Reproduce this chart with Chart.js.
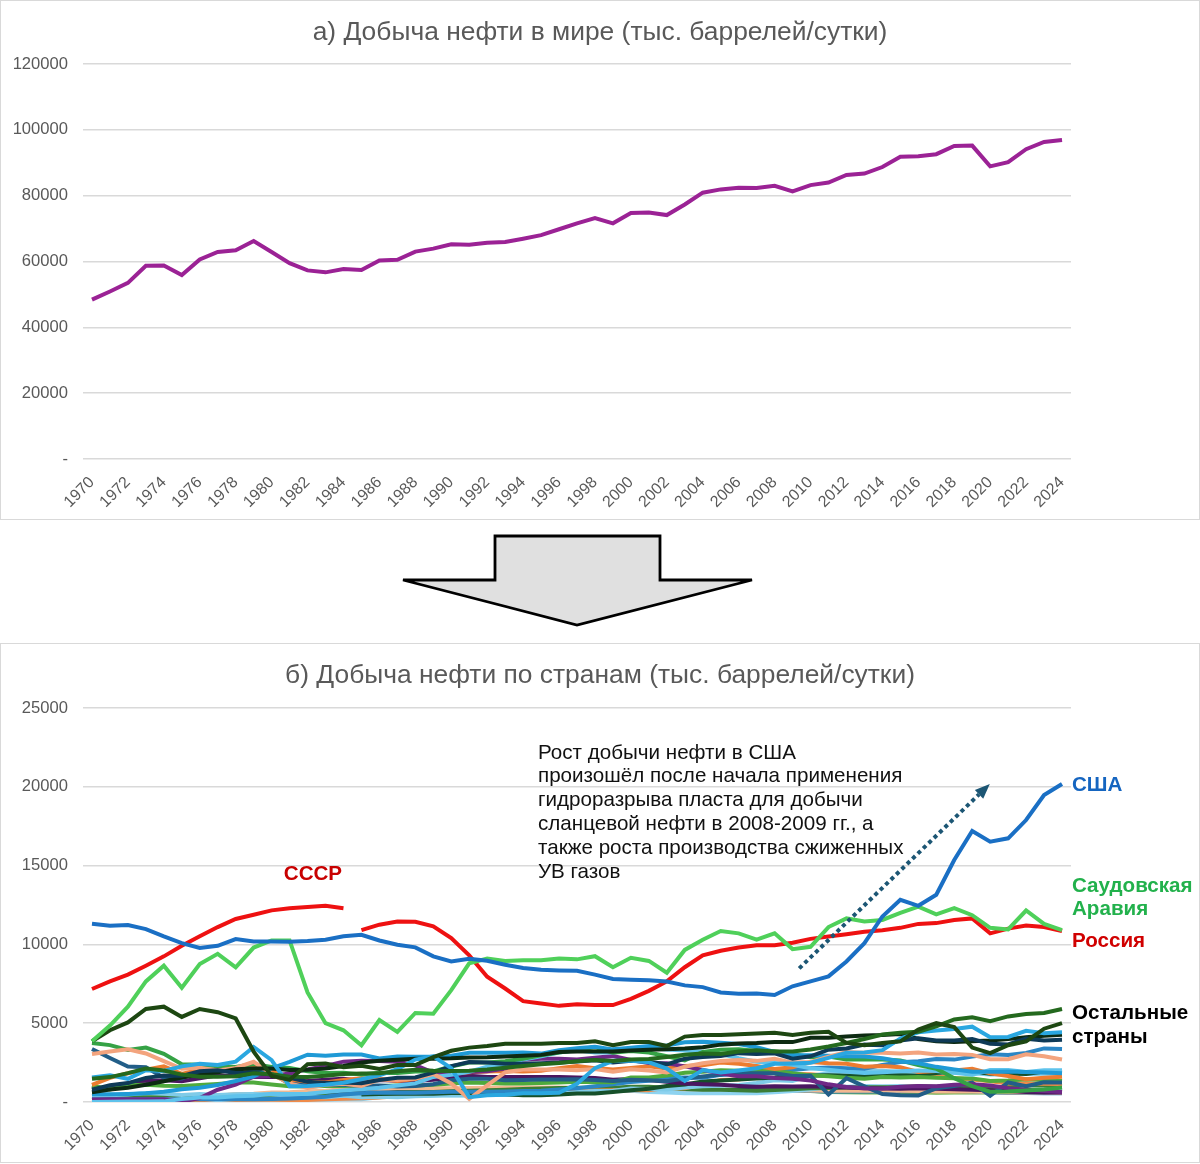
<!DOCTYPE html>
<html lang="ru">
<head>
<meta charset="utf-8">
<title>Добыча нефти</title>
<script src="https://cdn.jsdelivr.net/npm/chart.js@4.4.1/dist/chart.umd.min.js"></script>
<style>
  html, body { margin: 0; padding: 0; background: #fff; }
  body { width: 1200px; height: 1164px; position: relative; overflow: hidden; }
  .panel { position: absolute; left: 0; width: 1198px; height: 518px; border: 1px solid #d9d9d9; background: #fff; }
  #panelA { top: 0; }
  #panelB { top: 643px; }
  .panel canvas { display: block; }
  #bigArrow { position: absolute; left: 0; top: 520px; }
</style>
</head>
<body>
<div class="panel" id="panelA"><canvas id="worldChart" width="1198" height="518"></canvas></div>
<svg id="bigArrow" width="1200" height="123" viewBox="0 0 1200 123">
  <polygon points="495,16 660,16 660,60 752,60 577,105 403,60 495,60" fill="#e0e0e0" stroke="#000" stroke-width="2.8" stroke-linejoin="miter"/>
</svg>
<div class="panel" id="panelB"><canvas id="countryChart" width="1198" height="518"></canvas></div>
<script>
// years on the category axis
const years = ['1970','1971','1972','1973','1974','1975','1976','1977','1978','1979',
  '1980','1981','1982','1983','1984','1985','1986','1987','1988','1989',
  '1990','1991','1992','1993','1994','1995','1996','1997','1998','1999',
  '2000','2001','2002','2003','2004','2005','2006','2007','2008','2009',
  '2010','2011','2012','2013','2014','2015','2016','2017','2018','2019',
  '2020','2021','2022','2023','2024'];

// а) world production, thousand barrels/day
const world = [48400, 50900, 53500, 58700, 58800, 55900, 60600, 62900, 63400, 66200,
  62900, 59500, 57300, 56700, 57700, 57400, 60300, 60500, 63000, 63900,
  65200, 65100, 65700, 65900, 66900, 68000, 69800, 71600, 73200, 71600,
  74700, 74900, 74100, 77300, 80900, 81900, 82400, 82300, 83000, 81300,
  83200, 84000, 86300, 86700, 88700, 91800, 92000, 92600, 95100, 95200,
  88900, 90200, 94100, 96300, 96900];

// б) by country
const usa = [11310, 11180, 11230, 10970, 10510, 10080, 9770, 9910, 10340, 10190,
  10190, 10170, 10210, 10300, 10510, 10610, 10250, 9980, 9810, 9240,
  8920, 9090, 8960, 8710, 8500, 8390, 8350, 8330, 8080, 7800,
  7760, 7720, 7650, 7400, 7290, 6950, 6870, 6890, 6790, 7340,
  7650, 7970, 8920, 10080, 11770, 12830, 12450, 13150, 15350, 17200,
  16520, 16730, 17890, 19480, 20180];
const ussr = [7170, 7650, 8080, 8650, 9240, 9910, 10510, 11100, 11610, 11880,
  12160, 12300, 12370, 12450, 12300];
// Russia from 1985
const russia = [10900, 11250, 11450, 11430, 11150,
  10400, 9300, 7950, 7200, 6400, 6250, 6100, 6200, 6150, 6150,
  6550, 7050, 7650, 8550, 9300, 9600, 9800, 9950, 9950, 10100,
  10350, 10500, 10650, 10800, 10900, 11050, 11300, 11350, 11550, 11650,
  10700, 11000, 11200, 11100, 10850];
const saudi = [3850, 4850, 6050, 7650, 8650, 7250, 8750, 9400, 8550, 9800,
  10250, 10250, 6950, 5000, 4550, 3600, 5200, 4450, 5650, 5600,
  7100, 8800, 9100, 8950, 9000, 9000, 9100, 9050, 9250, 8550,
  9150, 8950, 8200, 9650, 10300, 10850, 10700, 10300, 10700, 9700,
  9850, 11100, 11650, 11450, 11550, 12000, 12400, 11900, 12300, 11850,
  11050, 10950, 12150, 11300, 10900];

const iran = [3850, 4550, 5050, 5900, 6050, 5400, 5900, 5700, 5300, 3200,
  1650, 1400, 2400, 2450, 2200, 2300, 2100, 2350, 2350, 2850,
  3250, 3450, 3550, 3700, 3700, 3700, 3750, 3750, 3850, 3600,
  3800, 3800, 3550, 4150, 4250, 4250, 4300, 4350, 4400, 4250,
  4400, 4450, 3750, 3600, 3750, 3850, 4600, 5000, 4750, 3450,
  3100, 3600, 3850, 4650, 5000];
const iraq = [1550, 1700, 1470, 2020, 1970, 2260, 2420, 2350, 2560, 3490,
  2660, 1000, 1010, 1100, 1220, 1440, 1690, 2080, 2690, 2900,
  2150, 310, 430, 460, 550, 560, 580, 1160, 2150, 2610,
  2610, 2520, 2120, 1340, 2030, 1880, 2000, 2140, 2420, 2450,
  2490, 2800, 3120, 3140, 3290, 4030, 4420, 4540, 4630, 4780,
  4110, 4130, 4520, 4360, 4420];
const kuwait = [3040, 3200, 3340, 3080, 2590, 2110, 2170, 2000, 2160, 2550,
  1760, 1180, 890, 1090, 1160, 1020, 1420, 1390, 1490, 1780,
  1180, 190, 1060, 1880, 2060, 2060, 2060, 2010, 2090, 1920,
  2080, 2000, 1880, 2240, 2460, 2600, 2660, 2610, 2740, 2500,
  2540, 2880, 3170, 3130, 3120, 3070, 3140, 3020, 3050, 2990,
  2710, 2720, 3030, 2900, 2700];
const uae = [780, 1060, 1200, 1530, 1680, 1660, 1950, 2010, 1840, 1850,
  1740, 1530, 1280, 1200, 1240, 1190, 1390, 1540, 1560, 1860,
  2280, 2540, 2500, 2430, 2420, 2460, 2500, 2570, 2650, 2510,
  2620, 2550, 2390, 2750, 2850, 2920, 3100, 3050, 3090, 2750,
  2900, 3320, 3400, 3640, 3600, 3900, 4040, 3910, 3910, 4000,
  3690, 3650, 4020, 3900, 3950];
const china = [620, 790, 910, 1090, 1320, 1550, 1740, 1880, 2080, 2120,
  2120, 2030, 2040, 2120, 2290, 2510, 2620, 2680, 2740, 2750,
  2770, 2830, 2840, 2890, 2930, 2990, 3170, 3210, 3210, 3210,
  3260, 3310, 3350, 3400, 3480, 3640, 3710, 3740, 3810, 3800,
  4080, 4070, 4160, 4220, 4250, 4310, 4000, 3850, 3800, 3850,
  3900, 3990, 4110, 4200, 4260];
const mexico = [490, 490, 510, 550, 650, 810, 900, 1080, 1330, 1630,
  2130, 2550, 3000, 2930, 3010, 3010, 2760, 2880, 2870, 2890,
  2940, 3130, 3120, 3130, 3140, 3070, 3280, 3410, 3500, 3340,
  3450, 3560, 3590, 3790, 3820, 3760, 3680, 3470, 3170, 2980,
  2960, 2940, 2910, 2880, 2780, 2590, 2460, 2230, 2070, 1920,
  1920, 1930, 1900, 1870, 1820];
const venezuela = [3750, 3610, 3300, 3450, 3060, 2400, 2370, 2290, 2220, 2410,
  2230, 2160, 1950, 1840, 1860, 1740, 1850, 1840, 1930, 1940,
  2250, 2500, 2500, 2590, 2750, 2960, 3140, 3320, 3480, 3130,
  3240, 3140, 2900, 2640, 3170, 3310, 3340, 3230, 3220, 3040,
  2840, 2880, 2700, 2690, 2690, 2630, 2350, 2110, 1510, 1010,
  650, 660, 730, 790, 920];
const canada = [1470, 1580, 1830, 2120, 2000, 1740, 1610, 1610, 1640, 1830,
  1760, 1610, 1590, 1660, 1780, 1810, 1830, 1950, 2040, 1990,
  1970, 1980, 2060, 2180, 2280, 2400, 2480, 2590, 2670, 2600,
  2700, 2730, 2860, 3000, 3080, 3040, 3210, 3290, 3210, 3200,
  3330, 3520, 3740, 4000, 4280, 4390, 4460, 4800, 5240, 5370,
  5130, 5430, 5580, 5650, 5900];
const norway = [0, 10, 30, 30, 40, 190, 280, 280, 360, 400,
  530, 510, 530, 640, 730, 810, 900, 1050, 1180, 1590,
  1720, 1920, 2240, 2400, 2700, 2900, 3140, 3280, 3140, 3140,
  3350, 3420, 3330, 3260, 3190, 3040, 2780, 2560, 2470, 2360,
  2140, 2040, 1920, 1840, 1890, 1950, 2000, 1970, 1850, 1730,
  2030, 2030, 1900, 2020, 2020];
const uk = [160, 170, 170, 170, 170, 30, 250, 780, 1100, 1600,
  1650, 1810, 2070, 2290, 2560, 2620, 2600, 2560, 2330, 1860,
  1860, 1900, 1950, 2120, 2680, 2750, 2740, 2700, 2810, 2910,
  2670, 2480, 2460, 2260, 2030, 1810, 1640, 1640, 1530, 1470,
  1360, 1120, 950, 870, 860, 960, 1010, 1000, 1090, 1120,
  1040, 880, 780, 700, 640];
const nigeria = [1080, 1530, 1820, 2050, 2260, 1780, 2070, 2090, 1910, 2300,
  2060, 1430, 1290, 1240, 1390, 1500, 1470, 1340, 1450, 1720,
  1810, 1890, 1940, 1960, 1930, 1990, 2150, 2280, 2150, 2070,
  2160, 2260, 2120, 2280, 2330, 2500, 2420, 2290, 2100, 2210,
  2530, 2460, 2430, 2240, 2280, 2200, 1900, 1970, 2000, 2110,
  1820, 1650, 1450, 1540, 1600];
const libya = [3360, 2790, 2250, 2210, 1540, 1490, 1950, 2080, 2000, 2100,
  1830, 1140, 1150, 1100, 1090, 1020, 1040, 980, 1010, 1130,
  1380, 1480, 1470, 1380, 1400, 1420, 1430, 1450, 1390, 1340,
  1410, 1380, 1320, 1490, 1620, 1750, 1820, 1820, 1820, 1650,
  1660, 480, 1510, 990, 500, 430, 410, 870, 1010, 1230,
  390, 1240, 1000, 1250, 1230];
const algeria = [1050, 790, 1060, 1100, 1030, 1020, 1080, 1150, 1230, 1230,
  1110, 1000, 990, 1010, 1010, 1040, 1020, 1050, 1040, 1100,
  1180, 1230, 1210, 1180, 1180, 1200, 1240, 1280, 1260, 1250,
  1550, 1560, 1680, 1850, 1920, 2010, 1980, 2000, 1990, 1820,
  1690, 1640, 1540, 1480, 1590, 1560, 1580, 1540, 1510, 1490,
  1330, 1360, 1450, 1400, 1330];
const indonesia = [850, 890, 1080, 1340, 1380, 1310, 1510, 1690, 1640, 1590,
  1580, 1610, 1340, 1410, 1470, 1330, 1390, 1350, 1340, 1410,
  1540, 1670, 1580, 1590, 1590, 1580, 1580, 1560, 1520, 1410,
  1460, 1390, 1290, 1180, 1130, 1090, 1020, 970, 1000, 990,
  1000, 950, 920, 880, 850, 840, 880, 840, 810, 780,
  740, 690, 640, 610, 600];
const brazil = [170, 180, 170, 170, 180, 180, 170, 170, 170, 170,
  190, 220, 270, 340, 480, 560, 600, 590, 580, 620,
  650, 650, 650, 670, 700, 720, 800, 870, 1000, 1130,
  1270, 1340, 1500, 1550, 1540, 1720, 1810, 1830, 1900, 2030,
  2140, 2190, 2140, 2110, 2350, 2530, 2590, 2730, 2690, 2880,
  3030, 2990, 3110, 3400, 3360];
// Kazakhstan from 1985
const kazakhstan = [480, 500, 520, 540, 530,
  570, 570, 530, 490, 430, 430, 470, 540, 540, 630,
  740, 840, 1020, 1110, 1300, 1360, 1430, 1490, 1550, 1690,
  1680, 1690, 1660, 1720, 1710, 1700, 1660, 1840, 1930, 1940,
  1800, 1810, 1770, 1930, 1890];
const qatar = [360, 430, 480, 570, 520, 440, 500, 450, 490, 510,
  470, 410, 340, 300, 400, 300, 330, 300, 360, 390,
  430, 420, 470, 450, 450, 460, 510, 640, 700, 720,
  850, 830, 800, 920, 1000, 1030, 1080, 1200, 1380, 1340,
  1670, 1830, 1930, 1980, 1980, 1900, 1880, 1870, 1850, 1830,
  1740, 1750, 1770, 1790, 1800];
const angola = [100, 110, 140, 160, 170, 160, 100, 200, 130, 140,
  150, 130, 130, 180, 200, 230, 280, 360, 450, 450,
  470, 500, 550, 500, 550, 650, 710, 720, 730, 750,
  750, 740, 900, 870, 1100, 1400, 1420, 1680, 1900, 1800,
  1760, 1660, 1710, 1700, 1650, 1800, 1720, 1670, 1520, 1420,
  1320, 1170, 1190, 1150, 1140];
const oman = [330, 290, 280, 290, 290, 340, 370, 340, 310, 300,
  280, 330, 330, 390, 420, 500, 560, 590, 620, 640,
  690, 710, 750, 780, 820, 860, 890, 910, 910, 910,
  960, 960, 900, 820, 780, 780, 740, 710, 760, 810,
  870, 890, 920, 940, 940, 950, 1000, 970, 980, 970,
  950, 970, 1060, 1050, 1000];
const colombia = [220, 220, 200, 190, 170, 160, 150, 140, 130, 120,
  130, 130, 140, 150, 170, 180, 300, 390, 380, 410,
  450, 430, 440, 460, 460, 590, 630, 660, 760, 840,
  710, 630, 600, 560, 550, 550, 560, 560, 620, 690,
  800, 940, 970, 1010, 1000, 1010, 920, 870, 880, 890,
  790, 740, 760, 780, 780];
const egypt = [330, 300, 230, 170, 150, 240, 330, 420, 490, 530,
  600, 620, 690, 720, 830, 890, 820, 870, 870, 870,
  870, 890, 900, 920, 920, 920, 920, 870, 860, 830,
  780, 760, 750, 750, 720, 700, 690, 710, 720, 740,
  730, 710, 710, 710, 710, 720, 690, 660, 670, 660,
  630, 600, 610, 610, 590];
const india = [140, 150, 150, 150, 150, 170, 180, 200, 230, 250,
  190, 300, 390, 500, 580, 630, 650, 650, 650, 700,
  710, 670, 610, 580, 660, 770, 740, 760, 740, 740,
  730, 730, 750, 760, 770, 730, 760, 770, 770, 760,
  880, 920, 910, 900, 890, 880, 860, 860, 860, 830,
  770, 750, 740, 730, 720];
const malaysia = [20, 60, 90, 90, 80, 100, 170, 190, 220, 290,
  280, 260, 310, 380, 440, 450, 500, 500, 550, 580,
  630, 660, 660, 650, 660, 690, 740, 730, 730, 740,
  740, 700, 760, 780, 790, 760, 750, 740, 770, 720,
  720, 650, 670, 660, 670, 700, 720, 720, 700, 680,
  620, 570, 570, 560, 550];
const argentina = [400, 430, 440, 420, 410, 400, 400, 430, 460, 490,
  500, 500, 490, 490, 480, 460, 430, 430, 460, 460,
  520, 530, 600, 650, 720, 760, 830, 880, 890, 850,
  820, 830, 820, 820, 790, 770, 770, 750, 720, 710,
  690, 640, 620, 610, 610, 620, 620, 580, 600, 620,
  600, 630, 710, 770, 830];

// text on the country chart
const noteLines = ['Рост добычи нефти в США', 'произошёл после начала применения',
  'гидроразрыва пласта для добычи', 'сланцевой нефти в 2008-2009 гг., а',
  'также роста производства сжиженных', 'УВ газов'];

const FONT = '"Liberation Sans", Arial, sans-serif';
Chart.defaults.font.family = FONT;

function line(label, data, color, width) {
    return { label: label, data: data, borderColor: color, backgroundColor: color,
        borderWidth: width || 4, pointRadius: 0, tension: 0, spanGaps: false };
}
function from1985(arr) {
    return arr.map((v, i) => ({ x: years[i + 15], y: v }));
}

function baseOptions(title, yMax, yStep, titleBottom) {
    return {
        responsive: false,
        animation: false,
        layout: { padding: 0 },
        plugins: {
            legend: { display: false },
            tooltip: { enabled: false },
            title: {
                display: true, text: title, color: '#595959',
                font: { family: FONT, size: 26.4, weight: 'normal' },
                padding: { top: 16, bottom: titleBottom }
            }
        },
        scales: {
            x: {
                offset: true,
                grid: { display: false },
                border: { display: false },
                ticks: {
                    autoSkip: false, maxRotation: 45, minRotation: 45, padding: 6,
                    color: '#595959', font: { size: 16 },
                    callback: (v, i) => (i % 2 === 0 ? years[i] : '')
                },
                afterFit: (s) => { s.height = 60; }
            },
            y: {
                min: 0, max: yMax,
                grid: { color: '#d9d9d9', lineWidth: 1.5, drawTicks: false },
                border: { display: false },
                ticks: {
                    stepSize: yStep, padding: 15, color: '#595959', font: { size: 16.6 },
                    callback: (v) => (v === 0 ? '-' : String(v))
                },
                afterFit: (s) => { s.width = 82; }
            },
            // empty right margin so the title stays centred on the panel
            gap: {
                type: 'linear', position: 'right', display: true,
                grid: { display: false }, border: { display: false },
                ticks: { display: false },
                afterFit: (s) => { s.width = 128; }
            }
        }
    };
}

// chart a
new Chart(document.getElementById('worldChart'), {
    type: 'line',
    data: { labels: years, datasets: [line('Мир', world, '#9b2295')] },
    options: baseOptions('а) Добыча нефти в мире (тыс. баррелей/сутки)', 120000, 20000, 15.3)
});

// labels, note and dotted arrow on chart b
const countryLabels = {
    id: 'countryLabels',
    afterDatasetsDraw(chart) {
        const { ctx, chartArea } = chart;
        const x = chart.scales.x, y = chart.scales.y;
        ctx.save();

        // dotted arrow
        const x0 = x.getPixelForValue(39.37), y0 = y.getPixelForValue(8480);
        const x1 = x.getPixelForValue(49.98), y1 = y.getPixelForValue(20180);
        const ang = Math.atan2(y1 - y0, x1 - x0);
        const head = 15;
        ctx.strokeStyle = '#1c5674';
        ctx.fillStyle = '#1c5674';
        ctx.lineWidth = 4;
        ctx.setLineDash([4, 3.5]);
        ctx.beginPath();
        ctx.moveTo(x0, y0);
        ctx.lineTo(x1 - Math.cos(ang) * head, y1 - Math.sin(ang) * head);
        ctx.stroke();
        ctx.setLineDash([]);
        ctx.beginPath();
        ctx.moveTo(x1, y1);
        ctx.lineTo(x1 - Math.cos(ang) * head + Math.sin(ang) * 6, y1 - Math.sin(ang) * head - Math.cos(ang) * 6);
        ctx.lineTo(x1 - Math.cos(ang) * head - Math.sin(ang) * 6, y1 - Math.sin(ang) * head + Math.cos(ang) * 6);
        ctx.closePath();
        ctx.fill();

        // note
        ctx.fillStyle = '#111';
        ctx.font = '20.6px ' + FONT;
        ctx.textAlign = 'left';
        ctx.textBaseline = 'middle';
        const nx = x.getPixelForValue(24.83);
        const ny = y.getPixelForValue(22145);
        noteLines.forEach((t, i) => ctx.fillText(t, nx, ny + i * 23.8));

        // country names
        ctx.font = 'bold 20.6px ' + FONT;
        const lx = chartArea.right + 1;
        const side = [
            { text: 'США', color: '#1565c0', v: 20115 },
            { text: 'Саудовская', color: '#22b14c', v: 13705 },
            { text: 'Аравия', color: '#22b14c', v: 12245 },
            { text: 'Россия', color: '#d00000', v: 10215 },
            { text: 'Остальные', color: '#000', v: 5650 },
            { text: 'страны', color: '#000', v: 4125 }
        ];
        side.forEach((s) => {
            ctx.fillStyle = s.color;
            ctx.fillText(s.text, lx, y.getPixelForValue(s.v));
        });
        ctx.fillStyle = '#c80000';
        ctx.textAlign = 'center';
        ctx.fillText('СССР', x.getPixelForValue(12.3), y.getPixelForValue(14470));
        ctx.restore();
    }
};

// chart b: first dataset is drawn on top
const countryDatasets = [
    line('США', usa, '#1a6fc4'),
    line('Саудовская Аравия', saudi, '#4fd05a'),
    line('Россия', from1985(russia), '#ee1111'),
    line('СССР', ussr, '#ee1111'),
    line('Иран', iran, '#1d4712'),
    line('Канада', canada, '#24691e'),
    line('Ирак', iraq, '#2aa7e0'),
    line('ОАЭ', uae, '#0e3a57'),
    line('Китай', china, '#0d2a12'),
    line('Кувейт', kuwait, '#f3a47e'),
    line('Мексика', mexico, '#1f9ad6'),
    line('Венесуэла', venezuela, '#35a245'),
    line('Норвегия', norway, '#5fc3ec'),
    line('Великобритания', uk, '#6f2886'),
    line('Нигерия', nigeria, '#ec7c30'),
    line('Ливия', libya, '#225e88'),
    line('Алжир', algeria, '#4faa3d'),
    line('Индонезия', indonesia, '#4a1660'),
    line('Бразилия', brazil, '#2b86c5'),
    line('Казахстан', from1985(kazakhstan), '#16502a'),
    line('Катар', qatar, '#7fcbe8'),
    line('Ангола', angola, '#f08b49'),
    line('Оман', oman, '#3a7d36'),
    line('Колумбия', colombia, '#8ed3f0'),
    line('Египет', egypt, '#f3b990'),
    line('Индия', india, '#173a50'),
    line('Малайзия', malaysia, '#2f7fb8'),
    line('Аргентина', argentina, '#6fae4f')
];

new Chart(document.getElementById('countryChart'), {
    type: 'line',
    data: { labels: years, datasets: countryDatasets },
    options: baseOptions('б) Добыча нефти по странам (тыс. баррелей/сутки)', 25000, 5000, 16.3),
    plugins: [countryLabels]
});
</script>
</body>
</html>
